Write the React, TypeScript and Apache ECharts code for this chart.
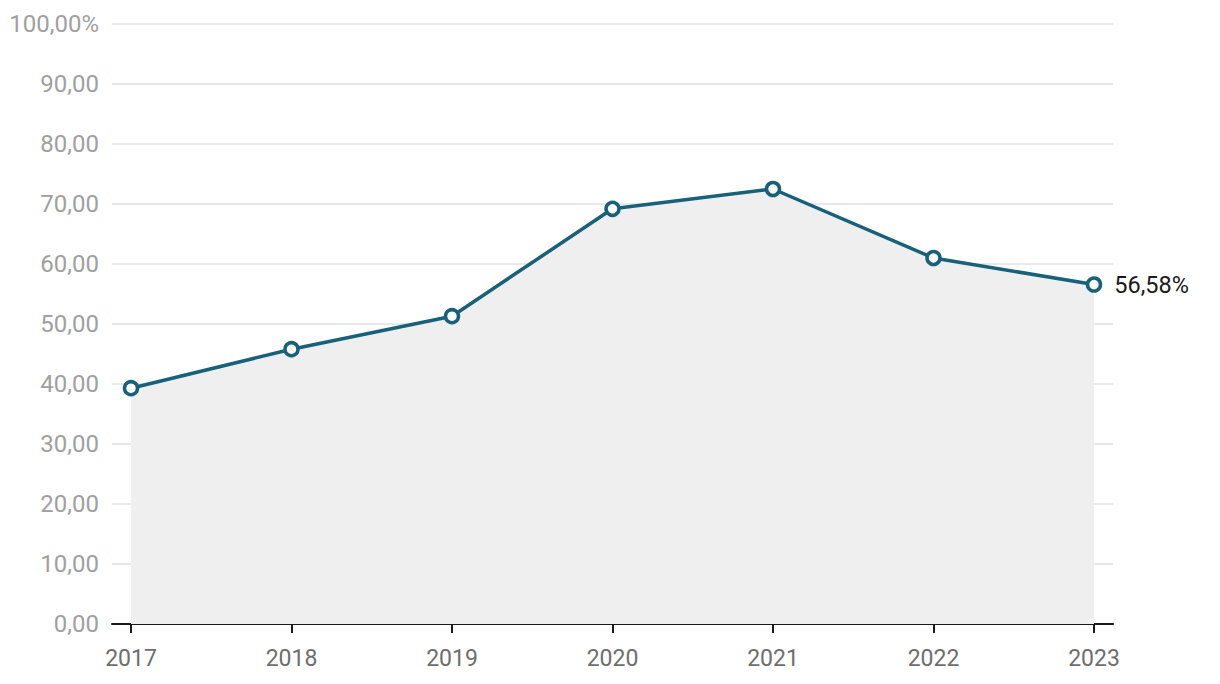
import React, { useEffect, useRef } from "react";
import * as echarts from "echarts";

const years = ["2017", "2018", "2019", "2020", "2021", "2022", "2023"];
const values = [39.3, 45.8, 51.3, 69.2, 72.5, 61.0, 56.58];
const yTicks = [0, 10, 20, 30, 40, 50, 60, 70, 80, 90, 100];

const LINE = "#17617a";

export default function App() {
  const ref = useRef<HTMLDivElement>(null);
  useEffect(() => {
    const chart = echarts.init(ref.current!, null, { renderer: "svg" });
    const fmtNum = (v: number) => v.toFixed(2).replace(".", ",");
    const yMin = yTicks[0];
    const yMax = yTicks[yTicks.length - 1];
    chart.setOption({
      animation: false,
      grid: [
        { left: 112, right: 107, top: 24, bottom: 60 },
        { left: 131, right: 126, top: 24, bottom: 60 },
      ],
      xAxis: [
        {
          gridIndex: 0,
          type: "value",
          min: 0,
          max: 1,
          splitLine: { show: false },
          axisLine: { show: true, onZero: false, lineStyle: { color: "#1a1a1a", width: 2 } },
          axisTick: { show: false },
          axisLabel: { show: false },
        },
        {
          gridIndex: 1,
          type: "category",
          data: years,
          boundaryGap: false,
          axisLine: { show: false, onZero: false },
          axisTick: { show: true, length: 9, lineStyle: { color: "#1a1a1a", width: 2 } },
          splitLine: { show: false },
          axisLabel: {
            color: "#6e6e6e",
            fontSize: 23,
            fontFamily: "Roboto",
            margin: 23,
          },
        },
      ],
      yAxis: [
        {
          gridIndex: 0,
          type: "value",
          min: yMin,
          max: yMax,
          interval: 10,
          axisLine: { show: false },
          axisTick: { show: false },
          splitLine: { lineStyle: { color: "#e2e2e2", width: 1.5 } },
          axisLabel: {
            formatter: (v: number) => (v === yMax ? fmtNum(v) + "%" : fmtNum(v)),
            color: "#a0a0a0",
            fontSize: 24,
            fontFamily: "Roboto",
            margin: 13,
          },
        },
        {
          gridIndex: 1,
          type: "value",
          min: yMin,
          max: yMax,
          interval: 10,
          show: false,
          splitLine: { show: false },
        },
      ],
      series: [
        {
          type: "line",
          xAxisIndex: 1,
          yAxisIndex: 1,
          data: values,
          lineStyle: { color: LINE, width: 3.5 },
          itemStyle: { color: "#ffffff", borderColor: LINE, borderWidth: 3.5 },
          symbol: "circle",
          symbolSize: 13,
          showAllSymbol: true,
          areaStyle: { color: "#efefef", opacity: 1 },
          label: {
            show: true,
            position: "right",
            distance: 12,
            color: "#1a1a1a",
            fontSize: 23.5,
            fontFamily: "Roboto",
            formatter: (p: any) =>
              p.dataIndex === values.length - 1 ? fmtNum(values[p.dataIndex]) + "%" : "",
          },
          z: 3,
        },
      ],
    });
    return () => chart.dispose();
  }, []);
  return (
    <div
      ref={ref}
      style={{ position: "fixed", left: 0, top: 0, width: 1220, height: 684, background: "#fff" }}
    />
  );
}
